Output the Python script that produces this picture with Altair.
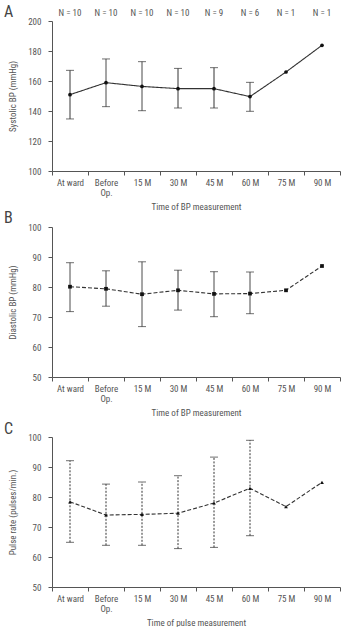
import altair as alt
import pandas as pd

cats = ["At ward", "Before Op.", "15 M", "30 M", "45 M", "60 M", "75 M", "90 M"]
n_labels = ["N = 10", "N = 10", "N = 10", "N = 10", "N = 9", "N = 6", "N = 1", "N = 1"]

sys_mean = [150.9, 158.9, 156.4, 154.9, 154.9, 149.6, 166.0, 183.8]
sys_upper = [167.1, 174.7, 172.9, 168.4, 168.9, 159.1, None, None]
sys_lower = [134.7, 142.9, 140.2, 142.0, 142.0, 139.8, None, None]

dia_mean = [80.1, 79.4, 77.6, 78.9, 77.7, 77.8, 78.9, 87.0]
dia_upper = [88.1, 85.4, 88.4, 85.6, 85.1, 85.0, None, None]
dia_lower = [71.8, 73.6, 66.8, 72.3, 70.1, 71.1, None, None]

pul_mean = [78.4, 74.0, 74.2, 74.6, 78.0, 82.9, 76.8, 84.9]
pul_upper = [92.1, 84.3, 85.0, 87.1, 93.3, 98.9, None, None]
pul_lower = [64.9, 63.9, 63.9, 62.8, 63.2, 67.1, None, None]

FONT = "Roboto Condensed, Liberation Sans Narrow, Arial Narrow, DejaVu Sans Condensed, sans-serif"
INK = "#333333"
TXT = "#555555"
W, H = 288, 150


def panel(mean, upper, lower, letter, ytitle, xtitle, ydom, ystep, shape,
          line_dash, err_dash, with_n, letter_y):
    df = pd.DataFrame({"cat": cats, "mean": mean, "upper": upper,
                       "lower": lower, "n": n_labels})
    xenc = alt.X("cat:N", sort=cats, title=xtitle,
                 scale=alt.Scale(type="band", paddingInner=0, paddingOuter=0),
                 axis=alt.Axis(labelAngle=0, tickBand="extent", tickSize=4,
                               labelPadding=3, titlePadding=5, labelOverlap=False,
                               labelExpr="datum.value == 'Before Op.' ? ['Before', 'Op.'] : datum.label",
                               labelLineHeight=10))
    yvals = list(range(ydom[0], ydom[1] + 1, ystep))
    yscale = alt.Scale(domain=ydom, nice=False, zero=False)
    yaxis = alt.Axis(values=yvals, tickSize=4, labelPadding=7,
                     titlePadding=10, labelOverlap=False)

    def Y(field):
        return alt.Y(field, title=ytitle, scale=yscale, axis=yaxis)

    base = alt.Chart(df)
    valid = base.transform_filter("datum.upper != null")
    err = valid.mark_rule(color=INK, strokeWidth=1, strokeDash=err_dash).encode(
        x=xenc, y=Y("lower:Q"), y2="upper:Q")
    cap_hi = valid.mark_tick(color=INK, size=8, thickness=1, orient="horizontal").encode(
        x=xenc, y=Y("upper:Q"))
    cap_lo = valid.mark_tick(color=INK, size=8, thickness=1, orient="horizontal").encode(
        x=xenc, y=Y("lower:Q"))
    line = base.mark_line(color=INK, strokeWidth=1.1, strokeDash=line_dash).encode(
        x=xenc, y=Y("mean:Q"))
    pts = base.mark_point(shape=shape, filled=True, color="#111111", size=14, opacity=1).encode(
        x=xenc, y=Y("mean:Q"))
    let = base.transform_filter("datum.cat == 'At ward'").mark_text(
        text=letter, font=FONT, fontSize=16, color="#444444", align="left", baseline="middle"
    ).encode(x=alt.value(-48), y=alt.value(letter_y))
    layers = [err, cap_hi, cap_lo, line, pts, let]
    if with_n:
        ntext = base.mark_text(font=FONT, fontSize=9, color=TXT, baseline="middle").encode(
            x=xenc, y=alt.value(-8), text="n:N")
        layers.append(ntext)
    return alt.layer(*layers).properties(width=W, height=H)


a = panel(sys_mean, sys_upper, sys_lower, "A", "Systolic BP (mmHg)",
          "Time of BP measurement", [100, 200], 20, "circle", [1, 0], [1, 0], True, -9.5)
b = panel(dia_mean, dia_upper, dia_lower, "B", "Diastolic BP (mmHg)",
          "Time of BP measurement", [50, 100], 10, "square", [4, 2], [1, 0], False, -9.5)
c = panel(pul_mean, pul_upper, pul_lower, "C", "Pulse rate (pulses/min.)",
          "Time of pulse measurement", [50, 100], 10, "triangle-up", [4, 2], [2, 1.5], False, -8)

chart = alt.vconcat(alt.vconcat(a, b, spacing=-2), c, spacing=4).properties(
    padding={"left": 4, "top": 3, "right": 0, "bottom": 0}
).configure_view(stroke=None).configure_axis(
    grid=False, labelFont=FONT, titleFont=FONT, labelFontSize=9, titleFontSize=9,
    titleFontWeight="normal", labelColor=TXT, titleColor=TXT,
    domainColor="#555555", tickColor="#555555", domainWidth=1, tickWidth=1
).configure_concat(spacing=0)

chart.save("out.html", embed_options={"renderer": "svg", "actions": False})
